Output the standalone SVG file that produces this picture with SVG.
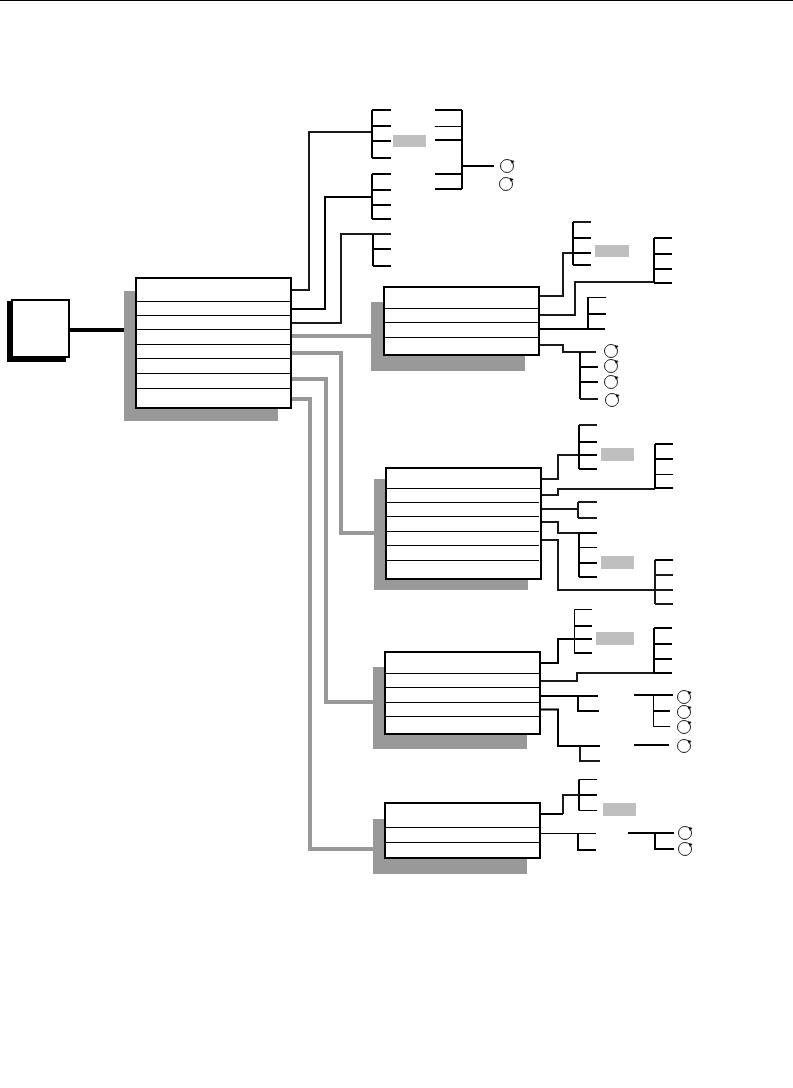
<svg xmlns="http://www.w3.org/2000/svg" xmlns:xlink="http://www.w3.org/1999/xlink" width="793" height="1088" viewBox="0 0 793 1088">
<style>
.s{fill:#999}.b{fill:#fff;stroke:#000;stroke-width:2}.r{stroke:#000;stroke-width:1;fill:none}
.g{fill:#bfbfbf}.t{fill:none;stroke:#000;stroke-width:2}
.n{fill:none;stroke:#000;stroke-width:1}.y{fill:none;stroke:#999;stroke-width:4}
.d{fill:none;stroke:#1a1a1a;stroke-width:2}
</style>
<defs>
<g id="rot"><circle r="6.5" fill="#fff" stroke="#222" stroke-width="1"/><path d="M3.500 -6L7.500 -5L5 -2Z" fill="#000"/></g>
</defs>
<rect x="0" y="0" width="793" height="1" fill="#000"/>
<g id="connectors">
<path class="t" style="stroke-width:4" d="M70 330H124"/>
<path class="y" d="M291 336H372M291 353H341V533H374M291 379H326V702H373M291 399H310V849H373"/>
<path class="d" d="M291 290H309V132H372M291 323H341V234H391"/>
<path class="t" d="M291 309H325V197H372"/>
<path class="t" d="M372 110V158M372 110H391M372 126H391M372 141H391M372 158H391"/>
<path class="t" d="M372 174V219M372 174H391M372 190H391M372 205H391M372 219H391"/>
<path class="t" d="M373 234V266M373 249H391M373 266H391"/>
<path class="t" d="M462 110V189M435 110H462M435 140H462M435 174H462M435 189H462M462 166H494"/>
<path class="n" d="M435 126.500H462"/>
<path class="d" d="M538 296H563V253H573M538 315H575V282H654M538 345H563V352H596"/>
<path class="t" d="M573 222V265M573 238H591M573 253H591M573 265H591M654 238V283M654 238H672M654 254H672M654 269H672M654 283H672"/>
<path class="d" d="M573 222H591"/>
<path class="t" d="M538 329H605M588 297V329M588 314H606"/>
<path class="n" d="M588 297.500H606"/>
<path class="t" d="M580 352V399M580 367H598M580 382H598"/>
<path class="d" d="M580 399H598"/>
<path class="d" d="M541 479H558V455H579M541 495H558V489H655M541 509H578M541 522H558V533H579M541 540H558V590H655"/>
<path class="t" d="M579 425V469M579 442H597M579 455H597M579 469H597M655 444V488M655 444H673M655 459H673M655 488H673"/>
<path class="d" d="M579 425H597M578 502V518M578 502H597M578 518H597M655 560V604M655 575H673M655 590H673M655 604H673"/>
<path class="n" d="M655 474.500H673M579 547.500H597"/>
<path class="t" d="M579 533V577M579 533H597M579 563H597M579 577H597M655 560H673"/>
<path class="t" d="M540 663H558V639H592M540 696H598M540 709.500H558V746H600M578 696V711H599M634 695H673M634 745H669"/>
<path class="d" d="M540 681H577V673H654M580 746V761H600"/>
<path class="t" d="M654 628V673M654 628H672M654 644H672M654 659H672M654 673H672M574 626H592M574 653H592"/>
<path class="n" d="M574.500 609.500V653M574.500 609.500H592M653.500 695V726.500H670"/>
<path class="t" d="M653.500 711H670"/>
<path class="t" d="M540 814H563M579 779.500V810.500M579 795H597M628 833H674M655 833V849H674M578 833V850H596"/>
<path class="d" d="M563 814V795H579"/>
<path class="n" d="M579 779.500H597M579 810.500H597M540 833.500H596"/>
</g>
<g id="rotators">
<use xlink:href="#rot" href="#rot" x="507" y="166"/><use xlink:href="#rot" href="#rot" x="506" y="184"/>
<use xlink:href="#rot" href="#rot" x="611" y="351"/><use xlink:href="#rot" href="#rot" x="611" y="366"/><use xlink:href="#rot" href="#rot" x="611" y="382"/><use xlink:href="#rot" href="#rot" x="612" y="400"/>
<use xlink:href="#rot" href="#rot" x="684" y="697"/><use xlink:href="#rot" href="#rot" x="684" y="712"/><use xlink:href="#rot" href="#rot" x="684" y="727"/><use xlink:href="#rot" href="#rot" x="684" y="746"/>
<use xlink:href="#rot" href="#rot" x="685" y="833"/><use xlink:href="#rot" href="#rot" x="685" y="849"/>
</g>
<g id="tags">
<rect class="g" x="393" y="135" width="33" height="12"/>
<rect class="g" x="595" y="245" width="34" height="12"/>
<rect class="g" x="601" y="448" width="33" height="13"/>
<rect class="g" x="601" y="556" width="33" height="13"/>
<rect class="g" x="596" y="632" width="38" height="13"/>
<rect class="g" x="603" y="803" width="33" height="13"/>
</g>
<g id="source"><rect x="7" y="301" width="59" height="61" fill="#000"/><rect class="b" x="12" y="300" width="57" height="57"/></g>
<g id="main"><rect class="s" x="124" y="291" width="154" height="130"/><rect class="b" x="136" y="278" width="155" height="130"/><path class="r" d="M136 301.500H291M136 315.500H291M136 329.500H291M136 344.500H291M136 358.500H291M136 373.500H291M136 388.500H291"/></g>
<g id="box2"><rect class="s" x="371" y="302" width="154" height="69"/><rect class="b" x="384" y="287" width="155" height="68"/><path class="r" d="M385 308.500H539M384 322.500H539M385 337.500H539"/></g>
<g id="box3"><rect class="s" x="374" y="479" width="154" height="111"/><rect class="b" x="386" y="468" width="155" height="111"/><path class="r" d="M386 488.500H541M386 502.500H539M386 516.500H539M386 531.500H539M386 545.500H539M386 560.500H539"/></g>
<g id="box4"><rect class="s" x="373" y="667" width="154" height="82"/><rect class="b" x="385" y="652" width="155" height="82"/><path class="r" d="M385 673.500H540M385 687.500H540M385 702.500H540M385 716.500H540"/></g>
<g id="box5"><rect class="s" x="373" y="819" width="154" height="55"/><rect class="b" x="385" y="803" width="155" height="55"/><path class="r" d="M385 827.500H540M385 842.500H540"/></g>
</svg>
